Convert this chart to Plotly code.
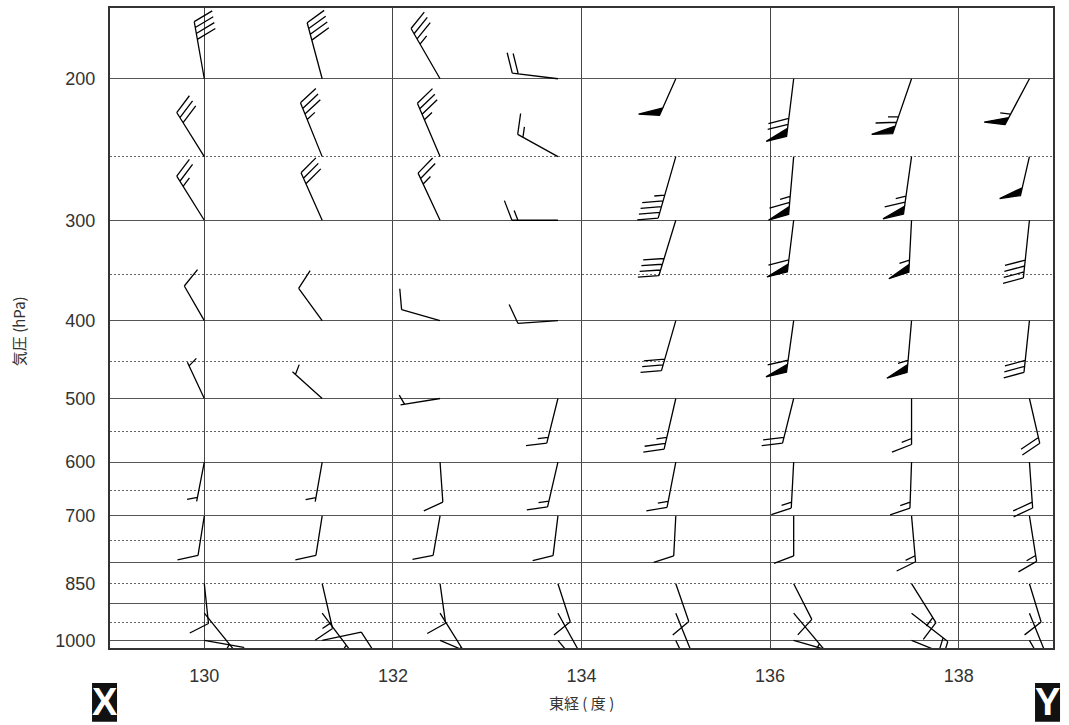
import numpy as np
import plotly.graph_objects as go

# ---------------- data ----------------
lons = [130.0, 131.25, 132.5, 133.75, 135.0, 136.25, 137.5, 138.75]
levels = [200, 250, 300, 400, 500, 600, 700, 850, 925, 1000]

# wind direction (deg, direction the wind blows FROM); rows = levels, cols = lons
wdir_200 = [350, 345, 330, 277, 204, 187, 199, 208]
wdir_250 = [328, 338, 337, 299, 196, 185, 188, 193]
wdir_300 = [328, 336, 335, 270, 197, 187, 183, 186]
wdir_400 = [330, 324, 286, 266, 196, 188, 185, 186]
wdir_500 = [335, 312, 261, 194, 193, 194, 180, 167]
wdir_600 = [191, 190, 176, 193, 191, 183, 182, 176]
wdir_700 = [189, 189, 190, 187, 183, 180, 175, 171]
wdir_850 = [174, 167, 172, 162, 161, 153, 148, 163]
wdir_925 = [141, 143, 148, 151, 158, 140, 128, 158]
wdir_1000 = [100, 78, 113, 140, 155, 106, 112, 150]

# wind speed (knots)
wspd_200 = [40, 40, 35, 20, 50, 70, 65, 55]
wspd_250 = [30, 35, 35, 15, 45, 65, 65, 50]
wspd_300 = [25, 30, 25, 15, 40, 60, 55, 40]
wspd_400 = [10, 10, 10, 10, 30, 60, 55, 30]
wspd_500 = [5, 5, 5, 15, 25, 20, 15, 20]
wspd_600 = [5, 5, 10, 15, 15, 15, 15, 20]
wspd_700 = [10, 10, 10, 10, 10, 10, 15, 15]
wspd_850 = [10, 15, 10, 10, 10, 10, 15, 10]
wspd_925 = [15, 15, 15, 15, 15, 15, 20, 15]
wspd_1000 = [10, 10, 10, 10, 10, 10, 10, 10]

wdir = [wdir_200, wdir_250, wdir_300, wdir_400, wdir_500, wdir_600,
        wdir_700, wdir_850, wdir_925, wdir_1000]
wspd = [wspd_200, wspd_250, wspd_300, wspd_400, wspd_500, wspd_600,
        wspd_700, wspd_850, wspd_925, wspd_1000]

x_ticks = [130, 132, 134, 136, 138]
y_labels = [200, 300, 400, 500, 600, 700, 850, 1000]
grid_solid = [200, 300, 400, 500, 600, 700, 800, 900, 1000]
grid_dotted = [250, 350, 450, 550, 650, 750, 850, 950]

# ---------------- barb style (pixels) ----------------
STAFF0 = 40.0
SPACING = 6.0
FLAG_W = 8.0
FLAG_ADV = 12.0
BARB_LEN = 21.0
ANG = np.radians(21)


def barb_path(direction, speed):
    th = np.radians(direction)
    s = np.array([np.sin(th), np.cos(th)])      # base -> tip (y up)
    p = np.array([s[1], -s[0]])                 # barb side
    bv = BARB_LEN * (np.cos(ANG) * p + np.sin(ANG) * s)
    n50 = int(speed // 50)
    r = speed - 50 * n50
    n10 = int(r // 10)
    r -= 10 * n10
    n5 = 1 if r >= 5 else 0
    elems = []
    off = 0.0
    for _ in range(n50):
        elems.append(("F", off))
        off += FLAG_ADV
    for _ in range(n10):
        elems.append(("B", off))
        off += SPACING
    if n5:
        if not elems:
            elems.append(("H", 4.0))
        else:
            elems.append(("H", off))
    inner = elems[-1][1] if elems else 0.0
    if elems and elems[-1][0] == "H" and len(elems) == 1:
        inner = 0.0
    L = STAFF0 + inner
    tip = L * s

    def f(v):
        return f"{v[0]:.2f},{v[1]:.2f}"

    parts = [f"M0,0 L{f(tip)}"]
    for kind, o in elems:
        P = tip - o * s
        if kind == "B":
            parts.append(f"M{f(P)} L{f(P + bv)}")
        elif kind == "H":
            parts.append(f"M{f(P)} L{f(P + 0.5 * bv)}")
        else:
            parts.append(f"M{f(P)} L{f(P + bv)} L{f(P - FLAG_W * s)} Z")
    return " ".join(parts)


fig = go.Figure()

bx, by = [], []
shapes = []
for i, lev in enumerate(levels):
    for j, lon in enumerate(lons):
        spd = wspd[i][j]
        if spd is None:
            continue
        bx.append(lon)
        by.append(lev)
        shapes.append(dict(
            type="path", xref="x", yref="y",
            xsizemode="pixel", ysizemode="pixel",
            xanchor=lon, yanchor=lev,
            path=barb_path(wdir[i][j], spd),
            line=dict(color="black", width=1.3),
            fillcolor="black", layer="above",
        ))

fig.add_trace(go.Scatter(x=bx, y=by, mode="markers",
                         marker=dict(size=1, opacity=0),
                         hoverinfo="skip", showlegend=False))
fig.add_trace(go.Scatter(x=bx[:1], y=by[:1], yaxis="y2", mode="markers",
                         marker=dict(size=1, opacity=0),
                         hoverinfo="skip", showlegend=False))

# X / Y section-end markers
box_w, box_h = 25 / 943, 39 / 642
box_y = -0.0849
for cx in (-0.0058, 0.9942):
    shapes.append(dict(type="rect", xref="paper", yref="paper",
                       x0=cx - box_w / 2, x1=cx + box_w / 2,
                       y0=box_y - box_h / 2, y1=box_y + box_h / 2,
                       fillcolor="#111", line=dict(width=0), layer="above"))

yrange = [np.log10(1022), np.log10(163.3)]
tick_font = dict(family="Liberation Sans, Arial, sans-serif", size=18, color="#333")
jp = "Noto Sans CJK JP, sans-serif"
xy_font = dict(family="Liberation Sans, Arial, sans-serif", size=38, color="white")

fig.update_layout(
    width=1069, height=725,
    margin=dict(l=110, r=16, t=6, b=77),
    plot_bgcolor="white", paper_bgcolor="white",
    showlegend=False,
    shapes=shapes,
    xaxis=dict(range=[129, 139], tickvals=x_ticks,
               showgrid=True, gridcolor="#444", gridwidth=1,
               zeroline=False, showline=True, mirror=True,
               linecolor="#333", linewidth=2,
               ticks="outside", ticklen=10, tickcolor="rgba(0,0,0,0)",
               tickfont=tick_font),
    yaxis=dict(type="log", range=yrange, tickvals=grid_solid,
               showticklabels=False, ticks="",
               showgrid=True, gridcolor="#555", gridwidth=1.3,
               minor=dict(tickmode="array", tickvals=grid_dotted, showgrid=True,
                          griddash="2px,2px", gridcolor="#666", gridwidth=1),
               zeroline=False, showline=True, mirror=True,
               linecolor="#333", linewidth=2),
    yaxis2=dict(type="log", range=yrange, overlaying="y", side="left",
                tickvals=y_labels, ticktext=[str(v) for v in y_labels],
                showgrid=False, zeroline=False, showline=False,
                ticks="outside", ticklen=10, tickcolor="rgba(0,0,0,0)",
                tickfont=tick_font),
    annotations=[
        dict(text="東経 ( 度 )", xref="paper", yref="paper", x=0.4995, y=-0.0857,
             showarrow=False, font=dict(family=jp, size=15, color="#333"),
             xanchor="center", yanchor="middle"),
        dict(text="気圧 (hPa)", xref="paper", yref="paper", x=-0.0976, y=0.495,
             showarrow=False, textangle=-90,
             font=dict(family=jp, size=15, color="#333"),
             xanchor="center", yanchor="middle"),
        dict(text="<b>X</b>", xref="paper", yref="paper", x=-0.0058, y=box_y,
             showarrow=False, font=xy_font, xanchor="center", yanchor="middle"),
        dict(text="<b>Y</b>", xref="paper", yref="paper", x=0.9942, y=box_y,
             showarrow=False, font=xy_font, xanchor="center", yanchor="middle"),
    ],
)

fig.write_html("out.html", config={"displayModeBar": False},
               post_script="document.body.style.margin='0px';")
